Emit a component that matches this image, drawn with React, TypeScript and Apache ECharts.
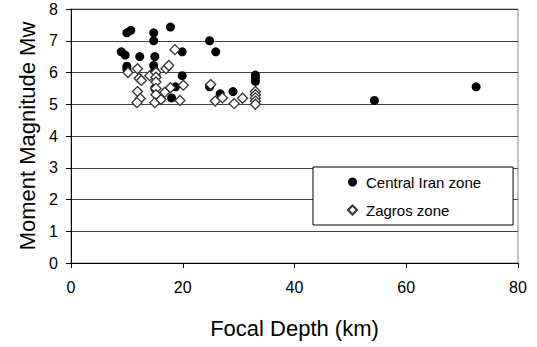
import React, { useEffect, useRef } from "react";
import * as echarts from "echarts";

// Focal depth (km) and moment magnitude (Mw) of events per zone
const centralIranDepth = [
  9.0, 9.7, 10.0, 10.7, 10.0, 10.0, 12.3, 14.8, 14.8, 15.0, 14.8, 15.0, 15.2, 15.0,
  17.8, 19.9, 19.9, 18.7, 18.0, 24.8, 25.9, 24.8, 26.7, 29.0, 33.0, 33.0, 33.0, 54.3, 72.5,
];
const centralIranMw = [
  6.65, 6.55, 7.25, 7.33, 6.2, 6.1, 6.5, 7.25, 7.0, 6.5, 6.22, 6.05, 5.9, 5.5,
  7.43, 6.65, 5.9, 5.55, 5.2, 7.0, 6.65, 5.55, 5.33, 5.4, 5.92, 5.82, 5.72, 5.12, 5.55,
];

const zagrosDepth = [
  10.2, 11.9, 12.2, 12.6, 14.1, 15.2, 15.2, 15.2, 15.2, 15.2, 15.0, 16.1, 16.8, 17.0,
  17.5, 18.6, 17.8, 19.5, 20.1, 11.9, 12.4, 11.8, 25.0, 25.8, 27.1, 29.2, 30.7,
  33.0, 33.0, 33.0, 33.0, 33.0,
];
const zagrosMw = [
  6.0, 6.12, 5.82, 5.75, 5.9, 6.0, 5.85, 5.7, 5.5, 5.3, 5.05, 5.15, 5.38, 6.12,
  6.22, 6.72, 5.52, 5.12, 5.6, 5.4, 5.18, 5.05, 5.62, 5.1, 5.2, 5.02, 5.19,
  5.4, 5.3, 5.2, 5.1, 5.0,
];

const seriesNames = ["Central Iran zone", "Zagros zone"];
const xTitle = "Focal Depth (km)";
const yTitle = "Moment Magnitude Mw";

const FONT = "'Liberation Sans', Arial, sans-serif";

const pairs = (xs: number[], ys: number[]) => xs.map((x, i) => [x, ys[i]]);

export default function App() {
  const ref = useRef<HTMLDivElement>(null);

  useEffect(() => {
    if (!ref.current) return;
    const chart = echarts.init(ref.current, undefined, { renderer: "svg" });
    chart.setOption({
      animation: false,
      backgroundColor: "#fff",
      grid: {
        left: 71,
        right: 19,
        top: 9,
        bottom: 84,
        show: true,
        borderColor: "#888",
        borderWidth: 1,
      },
      legend: {
        orient: "vertical",
        left: 313,
        top: 167,
        padding: [7, 32, 7, 34],
        itemWidth: 9,
        itemHeight: 9,
        itemGap: 12,
        borderColor: "#000",
        borderWidth: 1,
        backgroundColor: "#fff",
        textStyle: {
          fontFamily: FONT,
          fontSize: 15,
          color: "#000",
          lineHeight: 16,
          padding: [0, 0, 0, 4],
        },
        data: seriesNames,
      },
      xAxis: {
        type: "value",
        min: 0,
        max: 80,
        interval: 20,
        name: xTitle,
        nameLocation: "middle",
        nameGap: 54,
        nameTextStyle: { fontFamily: FONT, fontSize: 22, color: "#000" },
        axisLine: { show: true, lineStyle: { color: "#000", width: 1 } },
        axisTick: { show: true, length: 5, lineStyle: { color: "#000" } },
        axisLabel: { fontFamily: FONT, fontSize: 16, color: "#000", margin: 16 },
        splitLine: { show: false },
      },
      yAxis: {
        type: "value",
        min: 0,
        max: 8,
        interval: 1,
        name: yTitle,
        nameLocation: "middle",
        nameGap: 27,
        nameTextStyle: { fontFamily: FONT, fontSize: 22, color: "#000" },
        axisLine: { show: true, lineStyle: { color: "#000", width: 1 } },
        axisTick: { show: true, length: 5, lineStyle: { color: "#000" } },
        axisLabel: { fontFamily: FONT, fontSize: 16, color: "#000", margin: 13 },
        splitLine: { show: true, lineStyle: { color: "#404040", width: 1 } },
      },
      series: [
        {
          name: seriesNames[0],
          type: "scatter",
          symbol: "circle",
          symbolSize: 9,
          itemStyle: { color: "#000", opacity: 1 },
          data: pairs(centralIranDepth, centralIranMw),
        },
        {
          name: seriesNames[1],
          type: "scatter",
          symbol: "diamond",
          symbolSize: 10,
          itemStyle: { color: "#fff", borderColor: "#333", borderWidth: 1.3, opacity: 1 },
          data: pairs(zagrosDepth, zagrosMw),
        },
      ],
    });
    return () => chart.dispose();
  }, []);

  return (
    <div
      ref={ref}
      style={{ position: "fixed", left: 0, top: 0, width: 537, height: 347, background: "#fff" }}
    />
  );
}
